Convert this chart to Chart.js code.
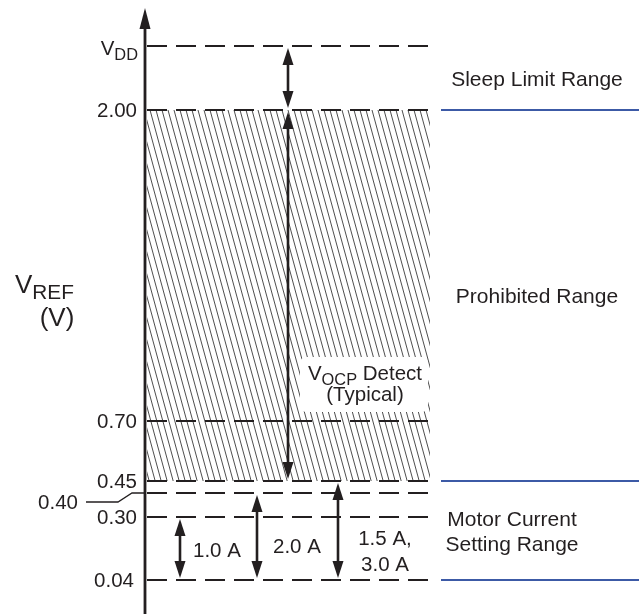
<!DOCTYPE html>
<html>
<head>
<meta charset="utf-8">
<script src="https://cdn.jsdelivr.net/npm/chart.js@4.4.1/dist/chart.umd.min.js"></script>
<style>
  html, body { margin: 0; padding: 0; background: #fff; }
  #wrap { width: 639px; height: 614px; }
</style>
</head>
<body>
<div id="wrap"><canvas id="chart" width="639" height="614"></canvas></div>
<script>
// V_REF levels (V), bottom to top, as printed on the axis
const levelLabels = ['0.04', '0.30', '0.40', '0.45', '0.70', '2.00', 'V_{DD}'];
// where each level sits on the diagram axis (the drawing is not to scale)
const levelPos = [3.4, 9.7, 12.1, 13.3, 19.3, 50.4, 56.8];

// ranges named on the right side
const rangeNames = ['Motor Current\nSetting Range', 'Prohibited Range', 'Sleep Limit Range'];
const rangeFrom = ['0.04', '0.45', '2.00'];
const rangeTo = ['0.45', '2.00', 'V_{DD}'];
const rangeHatched = [false, true, false];

// double arrows between two levels
const spanLabels = ['1.0 A', '2.0 A', '1.5 A,\n3.0 A', 'V_{OCP} Detect\n(Typical)', ''];
const spanFrom = ['0.04', '0.04', '0.04', '0.45', '2.00'];
const spanTo = ['0.30', '0.40', '0.45', '2.00', 'V_{DD}'];

// ---- layout (pixels / axis units), not data ----
const ink = '#231f20';
const blue = '#3c5aa6';
const font = '"Liberation Sans", Arial, sans-serif';
const axisX = 145, axisTop = 60.6;
const lineX0 = 147, lineX1 = 430;
const blueX0 = 441, blueX1 = 639;
const spanX = [180, 257, 338, 288, 288];
// label anchor relative to arrow x / mid point of the span
const spanLabelDx = [13, 16, 47, 77, 0];
const spanLabelDy = [8.5, 16.5, 14.5, 84.5, 0];
const spanLabelAlign = ['left', 'left', 'center', 'center', 'center'];

const pos = lbl => levelPos[levelLabels.indexOf(lbl)];

// seamless "\\\" hatch: one line per 6px, shifting 6px every 22px down
function makeHatch() {
  const w = 6, h = 22;
  const t = document.createElement('canvas');
  t.width = w; t.height = h;
  const c = t.getContext('2d');
  c.strokeStyle = '#3a3a3a';
  c.lineWidth = 0.9;
  c.beginPath();
  for (let k = -1; k <= 1; k++) {
    c.moveTo(k * w, 0);
    c.lineTo(k * w + w, h);
  }
  c.stroke();
  return c.createPattern(t, 'repeat');
}

// text with V_{sub} style subscripts
function drawRich(ctx, text, x, y, size, align) {
  const parts = [];
  const re = /_\{([^}]*)\}/g;
  let last = 0, m;
  while ((m = re.exec(text)) !== null) {
    if (m.index > last) parts.push({ t: text.slice(last, m.index), sub: false });
    parts.push({ t: m[1], sub: true });
    last = re.lastIndex;
  }
  if (last < text.length) parts.push({ t: text.slice(last), sub: false });
  const subSize = size * 0.8;
  let w = 0;
  parts.forEach(p => {
    ctx.font = (p.sub ? subSize : size) + 'px ' + font;
    p.w = ctx.measureText(p.t).width;
    w += p.w;
  });
  let cx = align === 'right' ? x - w : align === 'center' ? x - w / 2 : x;
  ctx.textAlign = 'left';
  ctx.textBaseline = 'alphabetic';
  parts.forEach(p => {
    ctx.font = (p.sub ? subSize : size) + 'px ' + font;
    ctx.fillText(p.t, cx, p.sub ? y + size * 0.24 : y);
    cx += p.w;
  });
}

function head(ctx, px, py, dir, len, half) {
  // dir -1: tip points up, +1: tip points down
  ctx.beginPath();
  ctx.moveTo(px, py);
  ctx.lineTo(px - half, py - dir * len);
  ctx.lineTo(px + half, py - dir * len);
  ctx.closePath();
  ctx.fill();
}

const datasets = [];
const seg = (pts, extra) => Object.assign({
  data: pts, showLine: true, pointRadius: 0, borderColor: ink,
  borderWidth: 2, fill: false, clip: false
}, extra);

// dashed level lines
levelLabels.forEach((lbl, i) => {
  datasets.push(seg([{ x: lineX0, y: levelPos[i] }, { x: lineX1, y: levelPos[i] }],
    { borderDash: [20, 9], borderWidth: 2 }));
});
// blue range boundaries
rangeFrom.forEach(lbl => {
  datasets.push(seg([{ x: blueX0, y: pos(lbl) }, { x: blueX1, y: pos(lbl) }],
    { borderColor: blue, borderWidth: 2 }));
});
// arrow shafts
spanFrom.forEach((lbl, i) => {
  datasets.push(seg([{ x: spanX[i], y: pos(lbl) + 1.2 }, { x: spanX[i], y: pos(spanTo[i]) - 1.2 }],
    { borderWidth: 2.6 }));
});
// V_REF axis
datasets.push(seg([{ x: axisX, y: 0 }, { x: axisX, y: axisTop - 1.5 }], { borderWidth: 2.8 }));
// leader from the 0.40 label
const p40 = pos('0.40');
datasets.push(seg([{ x: 86, y: p40 - 0.9 }, { x: 118, y: p40 - 0.9 }, { x: 132, y: p40 }, { x: axisX, y: p40 }],
  { borderWidth: 1.3 }));
// hatched prohibited range, drawn underneath
const hatch = makeHatch();
rangeNames.forEach((n, i) => {
  if (!rangeHatched[i]) return;
  datasets.push(seg([{ x: lineX0, y: pos(rangeTo[i]) }, { x: lineX1, y: pos(rangeTo[i]) }],
    { borderWidth: 0, fill: { value: pos(rangeFrom[i]) }, backgroundColor: hatch, order: 10 }));
});

const diagram = {
  id: 'diagram',
  afterDatasetsDraw(chart) {
    const { ctx, scales: { x, y } } = chart;
    ctx.save();
    ctx.fillStyle = ink;

    // axis arrow head
    head(ctx, x.getPixelForValue(axisX), y.getPixelForValue(axisTop), -1, 21, 5.5);

    // span arrow heads and labels
    spanFrom.forEach((lbl, i) => {
      const px = x.getPixelForValue(spanX[i]);
      const yLow = y.getPixelForValue(pos(lbl)) - 2;
      const yHigh = y.getPixelForValue(pos(spanTo[i])) + 2;
      ctx.fillStyle = ink;
      head(ctx, px, yHigh, -1, 17, 5.5);
      head(ctx, px, yLow, 1, 17, 5.5);
      if (!spanLabels[i]) return;
      const lines = spanLabels[i].split('\n');
      const mid = (yLow + yHigh) / 2;
      const lx = px + spanLabelDx[i];
      const ly = mid + spanLabelDy[i];
      if (spanLabels[i].indexOf('_{') >= 0) {
        // clear the hatch behind the label
        ctx.fillStyle = '#fff';
        ctx.beginPath();
        ctx.roundRect(lx - 65, ly - 23, 128, 55, 6);
        ctx.fill();
        ctx.fillStyle = ink;
        drawRich(ctx, lines[0], lx, ly, 20.5, spanLabelAlign[i]);
        drawRich(ctx, lines[1], lx, ly + 21, 20.5, spanLabelAlign[i]);
      } else {
        lines.forEach((t, k) => drawRich(ctx, t, lx, ly + k * 26, 20.5, spanLabelAlign[i]));
      }
    });

    // axis labels
    ctx.fillStyle = ink;
    levelLabels.forEach((lbl, i) => {
      const py = y.getPixelForValue(levelPos[i]);
      if (lbl === '0.40') drawRich(ctx, lbl, 78, y.getPixelForValue(p40 - 0.9) + 7.3, 20.5, 'right');
      else if (lbl.indexOf('_{') >= 0) drawRich(ctx, lbl, 138, py + 9, 20.5, 'right');
      else drawRich(ctx, lbl, lbl === '0.04' ? 134 : 137, py + 7.3, 20.5, 'right');
    });
    drawRich(ctx, 'V_{REF}', 15, 293, 26, 'left');
    drawRich(ctx, '(V)', 57, 326, 26, 'center');

    // range names
    rangeNames.forEach((n, i) => {
      const mid = (y.getPixelForValue(pos(rangeFrom[i])) + y.getPixelForValue(pos(rangeTo[i]))) / 2;
      const lines = n.split('\n');
      const top = mid - (lines.length - 1) * 12.5;
      lines.forEach((t, k) => drawRich(ctx, t, 537 - (lines.length > 1 ? 25 : 0), top + k * 25 + 7.5, 21, 'center'));
    });
    ctx.restore();
  }
};

new Chart(document.getElementById('chart'), {
  type: 'scatter',
  data: { datasets: datasets },
  options: {
    responsive: false,
    animation: false,
    layout: { padding: 0 },
    plugins: { legend: { display: false }, tooltip: { enabled: false } },
    scales: {
      x: { type: 'linear', min: 0, max: 639, display: false },
      y: { type: 'linear', min: 0, max: 61.4, display: false }
    }
  },
  plugins: [diagram]
});
</script>
</body>
</html>
